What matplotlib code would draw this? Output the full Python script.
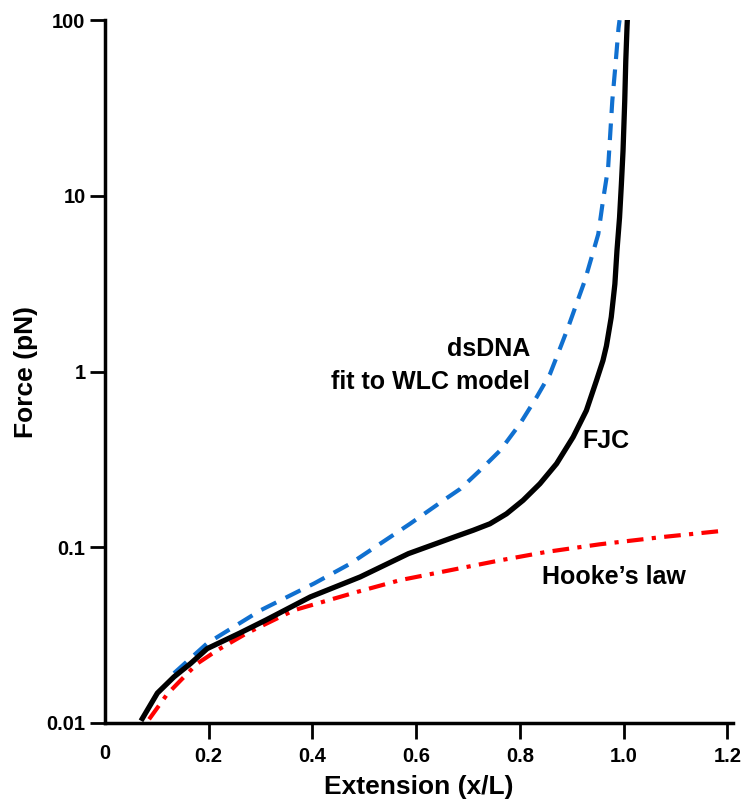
import matplotlib
matplotlib.use("Agg")
import matplotlib.pyplot as plt
import matplotlib.ticker as mticker

plt.rcParams['font.family'] = ['Liberation Sans', 'DejaVu Sans']
plt.rcParams['font.weight'] = 'bold'

# freely jointed chain
fjc_x = [0.072, 0.101, 0.133, 0.165, 0.197, 0.26, 0.31, 0.396, 0.492, 0.585,
         0.672, 0.71, 0.742, 0.774, 0.806, 0.8385, 0.8706, 0.9025, 0.928, 0.9475,
         0.960, 0.9667, 0.976, 0.983, 0.987, 0.992, 0.9955, 0.9987, 1.002, 1.004,
         1.0065, 1.007]
fjc_f = [0.0106, 0.0148, 0.0183, 0.0218, 0.0265, 0.0325, 0.0385, 0.0522, 0.0678, 0.092,
         0.114, 0.125, 0.136, 0.155, 0.185, 0.230, 0.299, 0.424, 0.600, 0.889,
         1.155, 1.40, 2.04, 3.15, 4.87, 7.53, 11.6, 18.0, 34.7, 58.5,
         93, 100]

# dsDNA fit to WLC model
wlc_x = [0.133, 0.197, 0.30, 0.403, 0.473, 0.588, 0.6526, 0.685, 0.723, 0.762,
         0.80, 0.832, 0.858, 0.877, 0.893, 0.909, 0.925, 0.938, 0.951, 0.960,
         0.970, 0.974, 0.978, 0.984, 0.990, 0.992]
wlc_f = [0.0192, 0.0284, 0.0438, 0.0622, 0.0807, 0.136, 0.185, 0.215, 0.274, 0.356,
         0.504, 0.714, 0.97, 1.35, 1.79, 2.43, 3.29, 4.46, 6.06, 9.37,
         14.5, 22.4, 34.7, 55, 90, 100]

# Hooke's law
hooke_x = [0.085, 0.12, 0.146, 0.178, 0.217, 0.274, 0.364, 0.486, 0.569, 0.762,
           0.85, 0.954, 1.07, 1.19]
hooke_f = [0.0105, 0.0146, 0.0175, 0.0218, 0.026, 0.0325, 0.0438, 0.0557, 0.065, 0.0843,
           0.094, 0.104, 0.114, 0.124]

xticks = [0.2, 0.4, 0.6, 0.8, 1.0, 1.2]
xtick_labels = ['0.2', '0.4', '0.6', '0.8', '1.0', '1.2']
yticks = [0.01, 0.1, 1, 10, 100]
ytick_labels = ['0.01', '0.1', '1', '10', '100']

fig = plt.figure(figsize=(7.41, 8.06), dpi=100)
ax = fig.add_axes([0.1417, 0.103, 0.847, 0.872])

ax.plot(hooke_x, hooke_f, color='#ff0000', lw=3, linestyle=(0, (4, 2, 1, 2)),
        solid_capstyle='butt')
ax.plot(wlc_x, wlc_f, color='#1070d0', lw=3, linestyle=(0, (4, 2.5)))
ax.plot(fjc_x, fjc_f, color='black', lw=3.8, solid_joinstyle='round')

ax.set_yscale('log')
ax.set_xlim(0, 1.21)
ax.set_ylim(0.01, 100)

ax.set_xticks(xticks)
ax.set_xticklabels(xtick_labels)
ax.set_yticks(yticks)
ax.set_yticklabels(ytick_labels)
ax.yaxis.set_minor_locator(mticker.NullLocator())

for s in ['top', 'right']:
    ax.spines[s].set_visible(False)
for s in ['left', 'bottom']:
    ax.spines[s].set_linewidth(2.5)

ax.tick_params(axis='both', width=2, labelsize=14.5, direction='out')
ax.tick_params(axis='x', length=11.5, pad=6)
ax.tick_params(axis='y', length=11, pad=3)
for lab in ax.get_xticklabels() + ax.get_yticklabels():
    lab.set_fontweight('bold')

# the lone "0" at the origin
ax.text(0, -0.044, '0', transform=ax.get_xaxis_transform(), ha='center',
        va='center', fontsize=14.5, fontweight='bold')

ax.set_xlabel('Extension (x/L)', fontsize=19, fontweight='bold', labelpad=6)
ax.set_ylabel('Force (pN)', fontsize=19, fontweight='bold', labelpad=6)

ax.text(0.819, 1.35, 'dsDNA', ha='right', va='center', fontsize=18, fontweight='bold')
ax.text(0.819, 0.87, 'fit to WLC model', ha='right', va='center', fontsize=18,
        fontweight='bold')
ax.text(0.921, 0.405, 'FJC', ha='left', va='center', fontsize=18, fontweight='bold')
ax.text(0.842, 0.0676, 'Hooke\u2019s law', ha='left', va='center', fontsize=18,
        fontweight='bold')

fig.savefig('out.png', dpi=100)
